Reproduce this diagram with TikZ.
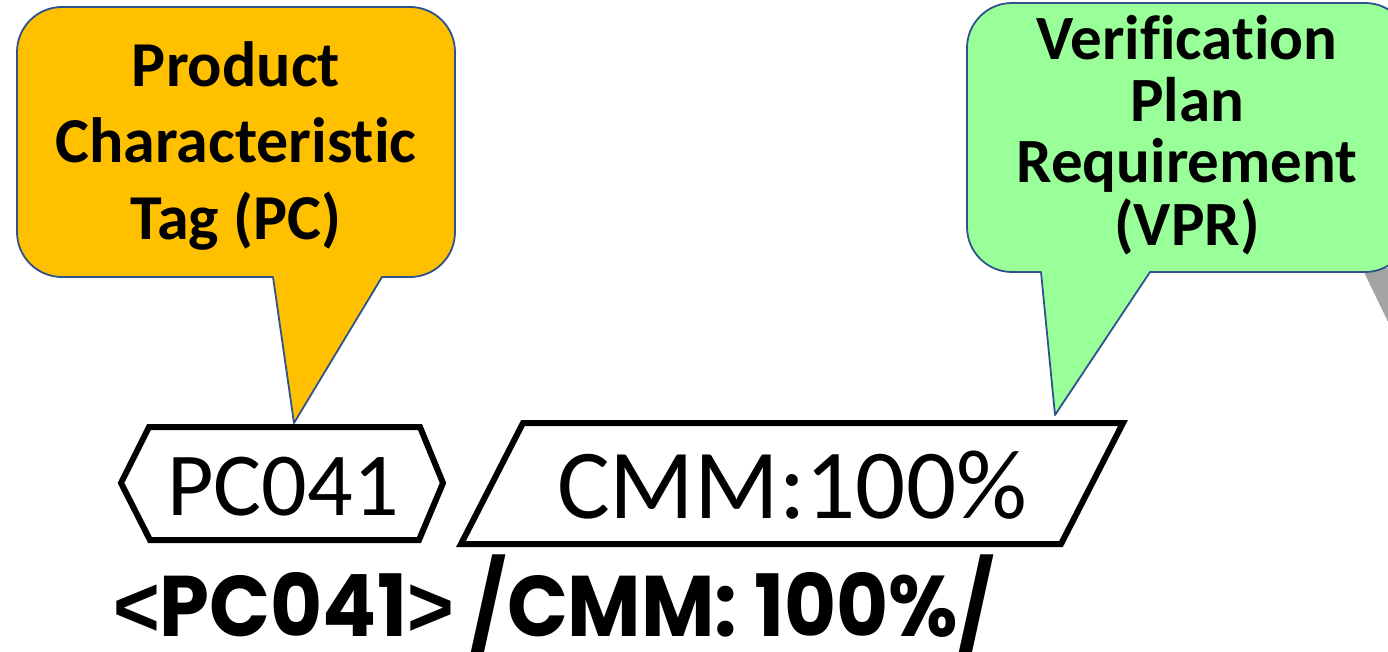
\documentclass[tikz,border=0pt]{standalone}
\usepackage{fontspec}
\setmainfont{Carlito}[Ligatures=NoCommon]
\newfontfamily\popfont{Poppins}[Ligatures=NoCommon]
\newfontfamily\chevfont{Liberation Sans}
\definecolor{calloutline}{HTML}{2F528F}
\definecolor{pcyellow}{HTML}{FFC000}
\definecolor{vprgreen}{HTML}{99FF99}
\definecolor{wedgegray}{HTML}{A3A3A3}
\newcommand{\chev}[1]{{\chevfont\bfseries #1}}
\begin{document}
\begin{tikzpicture}[x=1pt,y=-1pt,
  callout/.style={draw=calloutline,line width=1.8pt,line join=round},
  tagline/.style={draw=black,line width=6pt,line join=miter,fill=white},
  pcline/.style={inner sep=0pt,anchor=base,font=\bfseries\fontsize{64}{74}\selectfont},
  vprline/.style={inner sep=0pt,anchor=base,font=\bfseries\fontsize{63}{72}\selectfont},
  tagtext/.style={inner sep=0pt,anchor=base}]
\useasboundingbox (0,0) rectangle (1388,652);
\clip (0,0) rectangle (1388,652);
\fill[white] (0,0) rectangle (1388,652);

% grey wedge peeking out behind the green callout
\fill[wedgegray] (1362,268) -- (1390,268) -- (1390,326) -- cycle;

% PC callout
\path[callout,fill=pcyellow]
  (273,277) -- (294,423) -- (382,277) -- (410,277)
  arc[start angle=90,end angle=0,radius=45] -- (455,52)
  arc[start angle=0,end angle=-90,radius=45] -- (62,7)
  arc[start angle=270,end angle=180,radius=45] -- (17,232)
  arc[start angle=180,end angle=90,radius=45] -- cycle;
\node[pcline] (pc1) at (236,87) {Product};
\node[pcline] (pc2) at (236,163) {Characteristic};
\node[pcline] (pc3) at (236,240) {Tag (PC)};

% VPR callout
\path[callout,fill=vprgreen]
  (1041,272) -- (1055,415) -- (1150,272) -- (1365,272)
  arc[start angle=90,end angle=0,radius=45] -- (1410,48)
  arc[start angle=0,end angle=-90,radius=45] -- (1012,3)
  arc[start angle=270,end angle=180,radius=45] -- (967,227)
  arc[start angle=180,end angle=90,radius=45] -- cycle;
\node[vprline] (vpr1) at (1187,60) {Verification};
\node[vprline] (vpr2) at (1187,122) {Plan};
\node[vprline] (vpr3) at (1187,183) {Requirement};
\node[vprline] (vpr4) at (1187,245) {(VPR)};

% characteristic tag (hexagon)
\path[tagline] (121,483) -- (149,427) -- (420,427) -- (443,483) -- (419,540) -- (150,540) -- cycle;
\node[tagtext,font=\fontsize{90}{100}\selectfont] (pctag) at (283,515) {PC041};

% verification tag (parallelogram)
\path[tagline] (523,423) -- (1123,423) -- (1061,544) -- (461,544) -- cycle;
\node[tagtext,font=\fontsize{99}{110}\selectfont] (vprtag) at (792,518) {CMM:100\%};

% plain-text notation
\node[inner sep=0pt,anchor=base west,font=\popfont\bfseries\fontsize{86}{96}\selectfont] (notation) at (113,636)
  {\scalebox{0.93}[1]{\chev{<}PC041\chev{>} /CMM: 100\%/}};
\end{tikzpicture}
\end{document}
